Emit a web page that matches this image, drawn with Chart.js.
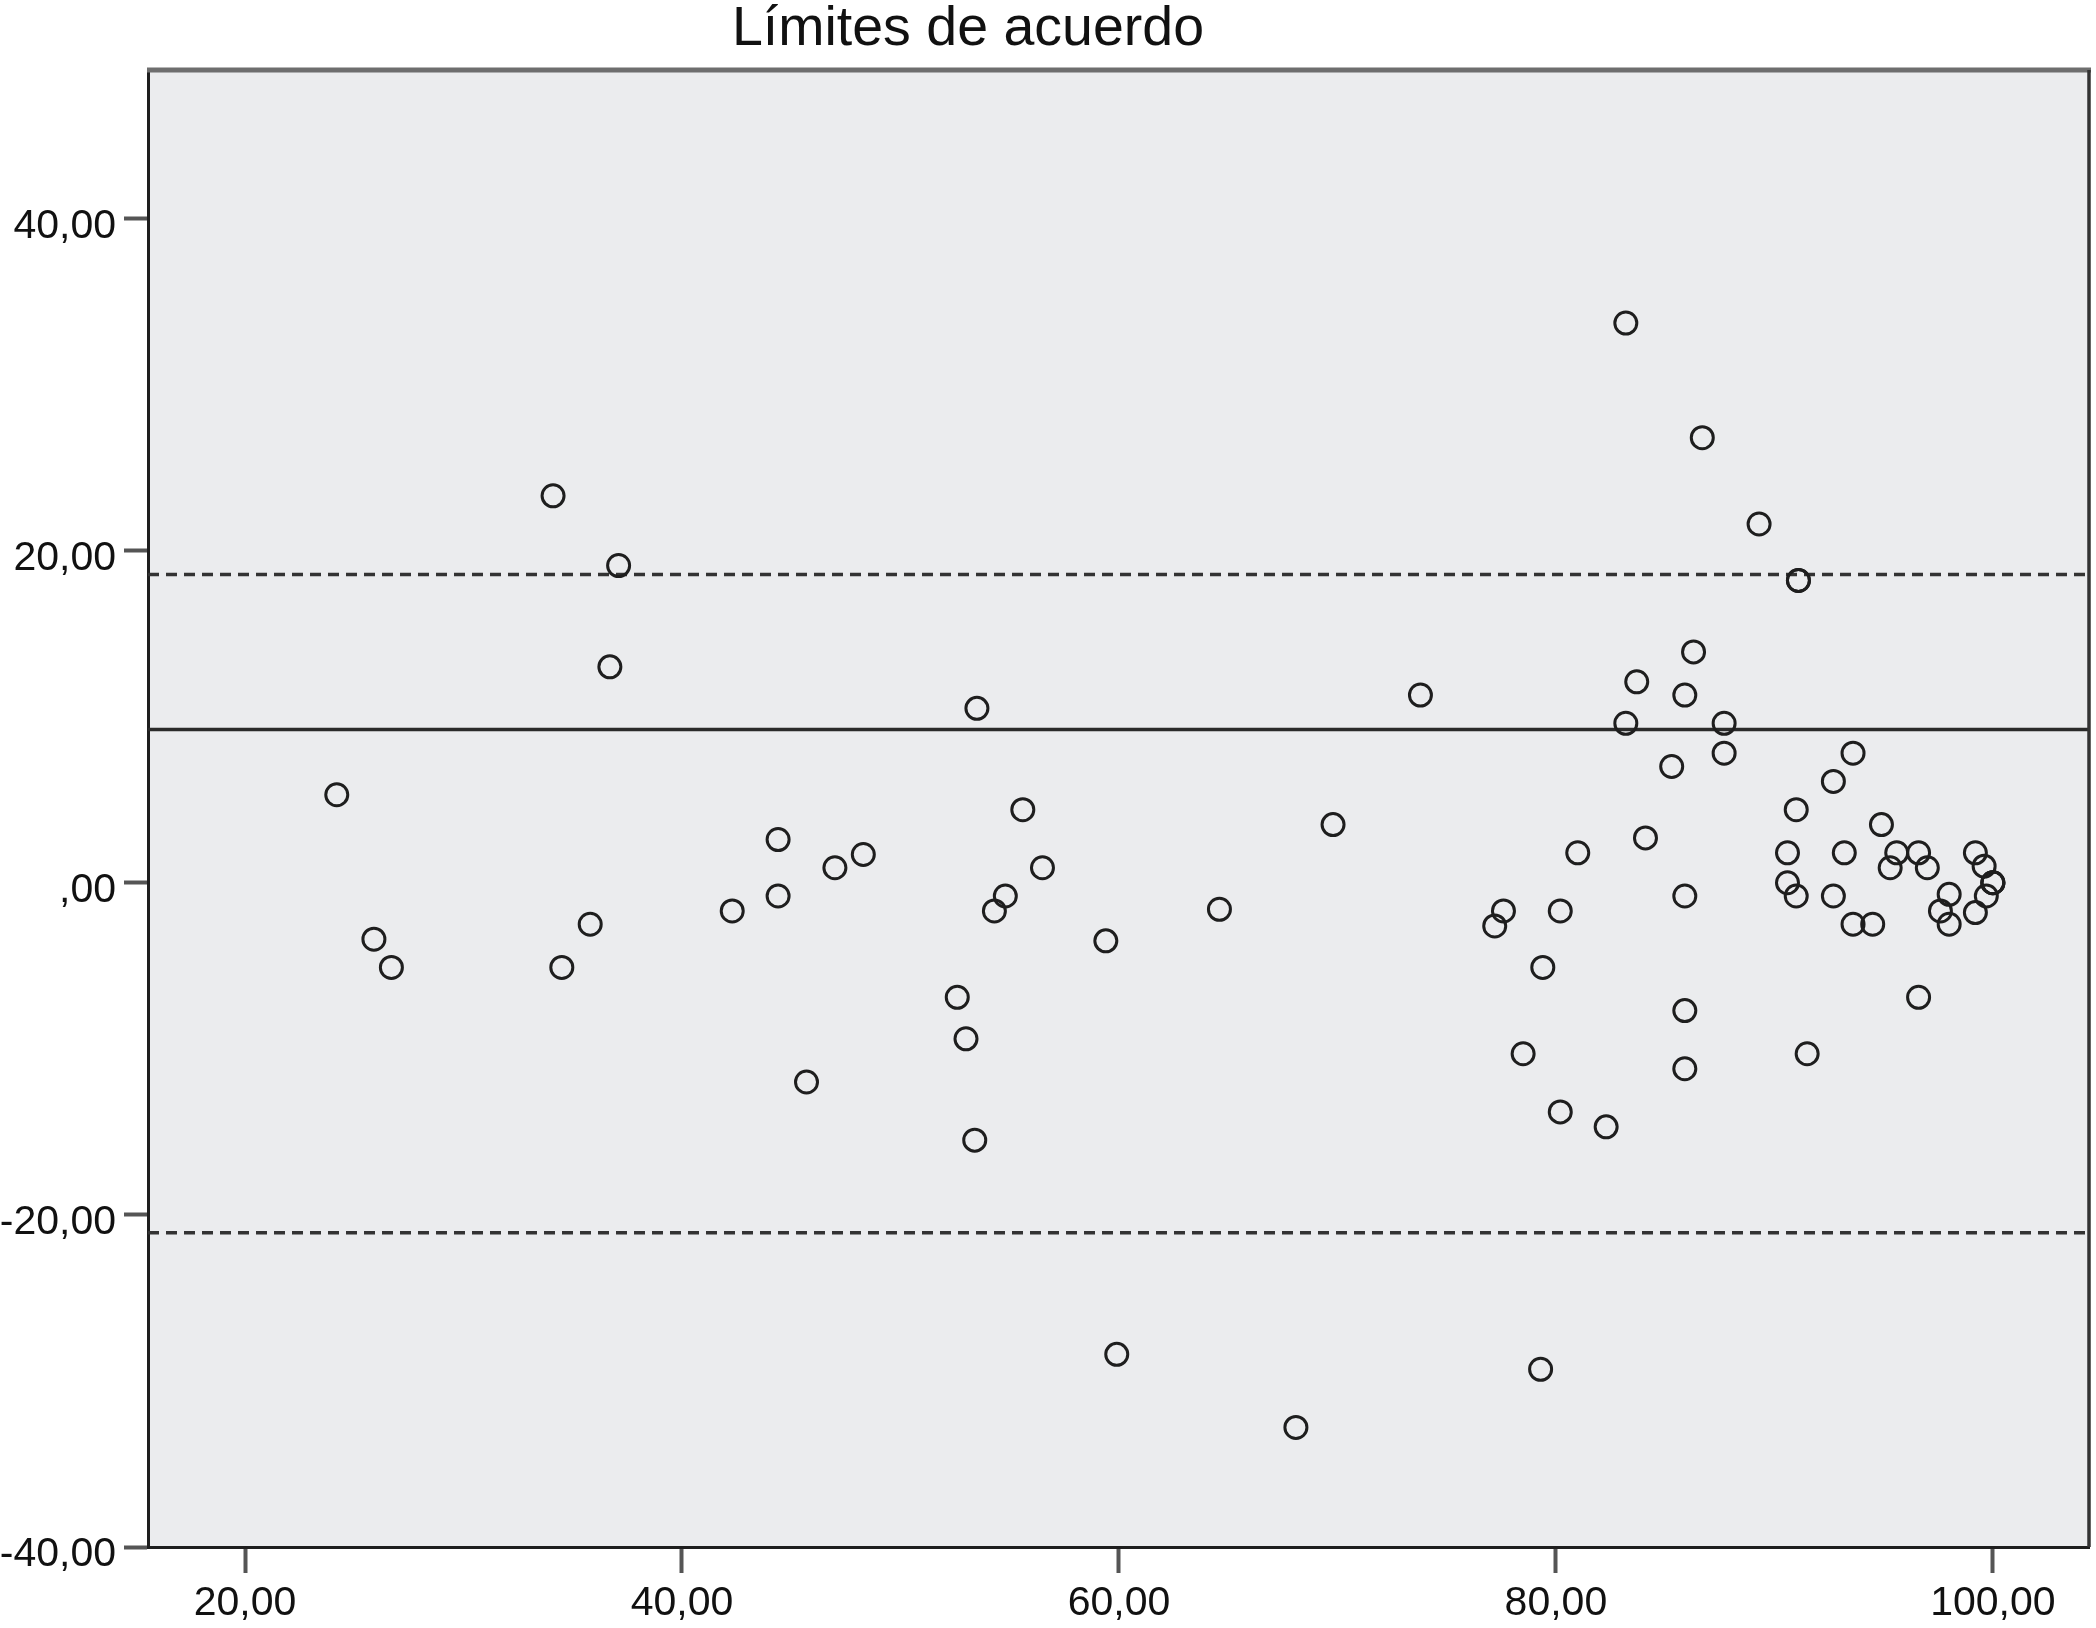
<!DOCTYPE html>
<html>
<head>
<meta charset="utf-8">
<title>Límites de acuerdo</title>
<script src="https://cdn.jsdelivr.net/npm/chart.js@4.4.0/dist/chart.umd.min.js"></script>
<style>
  body { margin: 0; background: #fff; }
  canvas { display: block; }
</style>
</head>
<body>
<canvas id="chart-limits" width="2096" height="1628"></canvas>
<script>
// mean of both methods (x) and difference (y)
var meanValues = [24.2, 25.9, 26.7, 34.1, 34.5, 35.8, 36.7, 37.1, 42.3, 44.4,
    44.4, 45.7, 47.0, 48.3, 52.6, 53.0, 53.5, 53.4, 54.3, 54.8,
    55.6, 56.5, 59.4, 59.9, 64.6, 68.1, 69.8, 73.8, 77.2, 77.6,
    78.5, 79.4, 79.3, 80.2, 80.2, 81.0, 82.3, 83.2, 83.2, 83.7,
    84.1, 85.3, 85.9, 85.9, 85.9, 85.9, 86.3, 86.7, 87.7, 87.7,
    89.3, 91.1, 91.1, 91.0, 90.6, 90.6, 91.0, 91.5, 92.7, 92.7,
    93.2, 93.6, 93.6, 94.5, 94.9, 95.3, 95.6, 96.6, 96.6, 97.0,
    97.6, 98.0, 98.0, 99.2, 99.2, 99.6, 99.7, 100.0, 100.0, 100.0];
var diffValues = [5.3, -3.4, -5.1, 23.3, -5.1, -2.5, 13.0, 19.1, -1.7, 2.6,
    -0.8, -12.0, 0.9, 1.7, -6.9, -9.4, 10.5, -15.5, -1.7, -0.8,
    4.4, 0.9, -3.5, -28.4, -1.6, -32.8, 3.5, 11.3, -2.6, -1.7,
    -10.3, -5.1, -29.3, -1.7, -13.8, 1.8, -14.7, 33.7, 9.6, 12.1,
    2.7, 7.0, 11.3, -0.8, -7.7, -11.2, 13.9, 26.8, 9.6, 7.8,
    21.6, 18.2, 18.2, 4.4, 1.8, 0.0, -0.8, -10.3, 6.1, -0.8,
    1.8, 7.8, -2.5, -2.5, 3.5, 0.9, 1.8, 1.8, -6.9, 0.9,
    -1.7, -2.5, -0.7, 1.8, -1.8, 1.0, -0.8, 0.0, 0.0, 0.0];

var meanLine = 9.22;
var upperLimit = 18.56;
var lowerLimit = -21.07;

var xTicks = [20, 40, 60, 80, 100];
var yTicks = [-40, -20, 0, 20, 40];
var xMin = 15.56, xMax = 104.4;
var yMin = -40, yMax = 48.94;

var titleText = 'Límites de acuerdo';

function commaLabel(v) {
    var s = Number(v).toFixed(2).replace('.', ',');
    if (s.indexOf('0,') === 0) s = s.substring(1);
    return s;
}

function hLine(v) {
    return [{x: xMin, y: v}, {x: xMax, y: v}];
}

var points = meanValues.map(function(x, i) {
    return {x: x, y: diffValues[i]};
});

// grey plot area, top/right frame and the title
var framePlugin = {
    id: 'frame',
    beforeDraw: function(chart) {
        var c = chart.ctx, a = chart.chartArea;
        c.save();
        c.fillStyle = '#ebecee';
        c.fillRect(a.left, a.top, a.right - a.left, a.bottom - a.top);
        c.restore();
    },
    afterDraw: function(chart) {
        var c = chart.ctx, a = chart.chartArea;
        c.save();
        c.strokeStyle = '#6e6e6e';
        c.lineWidth = 5;
        c.beginPath();
        c.moveTo(a.left - 1, a.top);
        c.lineTo(a.right + 2, a.top);
        c.stroke();
        c.strokeStyle = '#333';
        c.lineWidth = 3.5;
        c.beginPath();
        c.moveTo(a.right, a.top);
        c.lineTo(a.right, a.bottom);
        c.stroke();
        c.fillStyle = '#111';
        c.font = '55.5px "Liberation Sans", Arial, sans-serif';
        c.textAlign = 'center';
        c.textBaseline = 'alphabetic';
        c.fillText(titleText, 968, 45);
        c.restore();
    }
};

var ctx = document.getElementById('chart-limits').getContext('2d');

new Chart(ctx, {
    type: 'scatter',
    data: {
        datasets: [{
                label: 'Diferencias',
                data: points,
                pointStyle: 'circle',
                pointRadius: 11,
                pointHoverRadius: 11,
                pointBorderWidth: 3,
                borderColor: '#1e1e1e',
                backgroundColor: 'rgba(0,0,0,0)',
                order: 0
            },
            {
                label: 'Media',
                data: hLine(meanLine),
                showLine: true,
                pointRadius: 0,
                borderColor: '#2a2a2a',
                borderWidth: 3.5,
                order: 1
            },
            {
                label: 'Límite superior',
                data: hLine(upperLimit),
                showLine: true,
                pointRadius: 0,
                borderColor: '#333',
                borderWidth: 3.5,
                borderDash: [11, 7],
                order: 1
            },
            {
                label: 'Límite inferior',
                data: hLine(lowerLimit),
                showLine: true,
                pointRadius: 0,
                borderColor: '#333',
                borderWidth: 3.5,
                borderDash: [11, 7],
                order: 1
            }
        ]
    },
    options: {
        responsive: false,
        animation: false,
        layout: {
            autoPadding: false,
            padding: {top: 70, right: 7, left: 0, bottom: 0}
        },
        plugins: {
            legend: {display: false},
            title: {display: false},
            tooltip: {enabled: false}
        },
        scales: {
            x: {
                type: 'linear',
                min: xMin,
                max: xMax,
                afterBuildTicks: function(axis) {
                    axis.ticks = xTicks.map(function(v) { return {value: v}; });
                },
                afterFit: function(axis) {
                    axis.height = 81;
                },
                border: {display: true, color: '#1e1e1e', width: 3},
                grid: {
                    drawOnChartArea: false,
                    drawTicks: true,
                    tickLength: 26,
                    tickWidth: 4,
                    tickColor: '#555'
                },
                ticks: {
                    padding: 6,
                    color: '#111',
                    maxRotation: 0,
                    autoSkip: false,
                    font: {size: 41, family: '"Liberation Sans", Arial, sans-serif'},
                    callback: commaLabel
                }
            },
            y: {
                type: 'linear',
                min: yMin,
                max: yMax,
                afterBuildTicks: function(axis) {
                    axis.ticks = yTicks.map(function(v) { return {value: v}; });
                },
                afterFit: function(axis) {
                    axis.width = 148;
                },
                border: {display: true, color: '#1e1e1e', width: 3},
                grid: {
                    drawOnChartArea: false,
                    drawTicks: true,
                    tickLength: 24,
                    tickWidth: 4,
                    tickColor: '#555'
                },
                ticks: {
                    padding: 8,
                    labelOffset: 8,
                    color: '#111',
                    autoSkip: false,
                    font: {size: 41, family: '"Liberation Sans", Arial, sans-serif'},
                    callback: commaLabel
                }
            }
        }
    },
    plugins: [framePlugin]
});
</script>
</body>
</html>
